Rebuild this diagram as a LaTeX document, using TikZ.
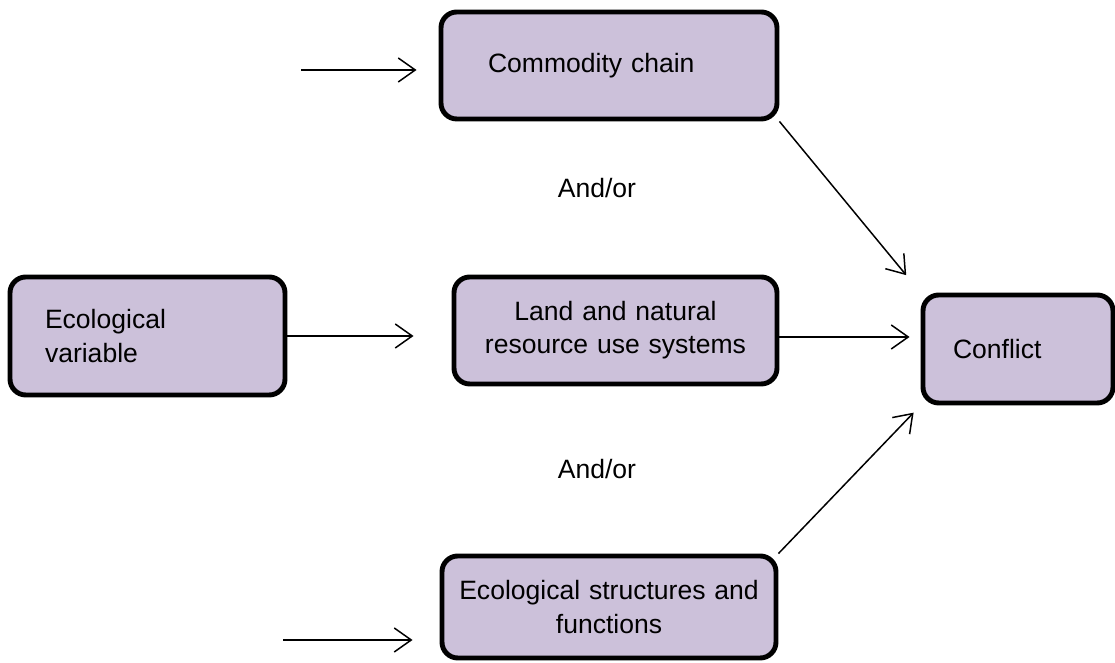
\documentclass[tikz,border=0pt]{standalone}
\usepackage{fontspec}
\setmainfont{Liberation Sans}
\usetikzlibrary{arrows.meta,positioning}
\definecolor{EcoLilac}{RGB}{204,193,218}
\definecolor{EcoInk}{RGB}{0,0,0}
\tikzset{
  eco/box/.style={
    draw=EcoInk,
    line width=2.8pt,
    rounded corners=9pt,
    fill=EcoLilac,
    text=EcoInk,
    inner xsep=0pt,
    inner ysep=4pt,
    font=\fontsize{15.1}{18.9}\selectfont
  },
  eco/arrow/.style={-{Straight Barb[length=3.4mm,width=4.8mm]}, line width=0.85pt, draw=EcoInk},
  eco/label/.style={font=\fontsize{15.1}{18.9}\selectfont, text=EcoInk, align=center}
}

\begin{document}
\begin{tikzpicture}[x=1cm,y=1cm]
  \useasboundingbox (0,0) rectangle (22.3,13.26);
  % boxes
  \node[eco/box,minimum width=6.72cm,minimum height=2.14cm,text width=4.84cm,align=left] (commodity) at (12.18,11.95) {Commodity chain};
  \node[eco/box,minimum width=6.46cm,minimum height=2.14cm,text width=6cm,align=center] (landuse) at (12.31,6.65) {Land and natural\\resource use systems};
  \node[eco/box,minimum width=6.68cm,minimum height=2.04cm,text width=6.2cm,align=center] (ecostruct) at (12.18,1.12) {Ecological structures and\\functions};
  \node[eco/box,minimum width=5.5cm,minimum height=2.36cm,text width=4.1cm,align=left] (ecovar) at (2.95,6.54) {Ecological\\variable};
  \node[eco/box,minimum width=3.8cm,minimum height=2.16cm,text width=2.6cm,align=left] (conflict) at (20.36,6.28) {Conflict};
  \node[eco/label] (andorA) at (11.94,9.5) {And/or};
  \node[eco/label] (andorB) at (11.94,3.88) {And/or};
  % free arrow tails
  \coordinate (inTop) at (6.02,11.86);
  \coordinate (inBottom) at (5.66,0.46);
  % arrows
  \draw[eco/arrow,shorten >=0.44cm] (inTop) -- (inTop -| commodity.west);
  \draw[eco/arrow,shorten >=0.54cm] (inBottom) -- (inBottom -| ecostruct.west);
  \draw[eco/arrow,shorten >=0.76cm] (ecovar.east) -- (ecovar.east -| landuse.west);
  \draw[eco/arrow,shorten >=0.22cm] ([yshift=-0.13cm]landuse.east) -- ([yshift=-0.13cm]landuse.east -| conflict.west);
  \draw[eco/arrow,shorten >=0.45cm] (commodity.south east) -- (conflict.north west);
  \draw[eco/arrow,shorten >=0.2cm] (ecostruct.north east) -- (conflict.south west);
\end{tikzpicture}
\end{document}
